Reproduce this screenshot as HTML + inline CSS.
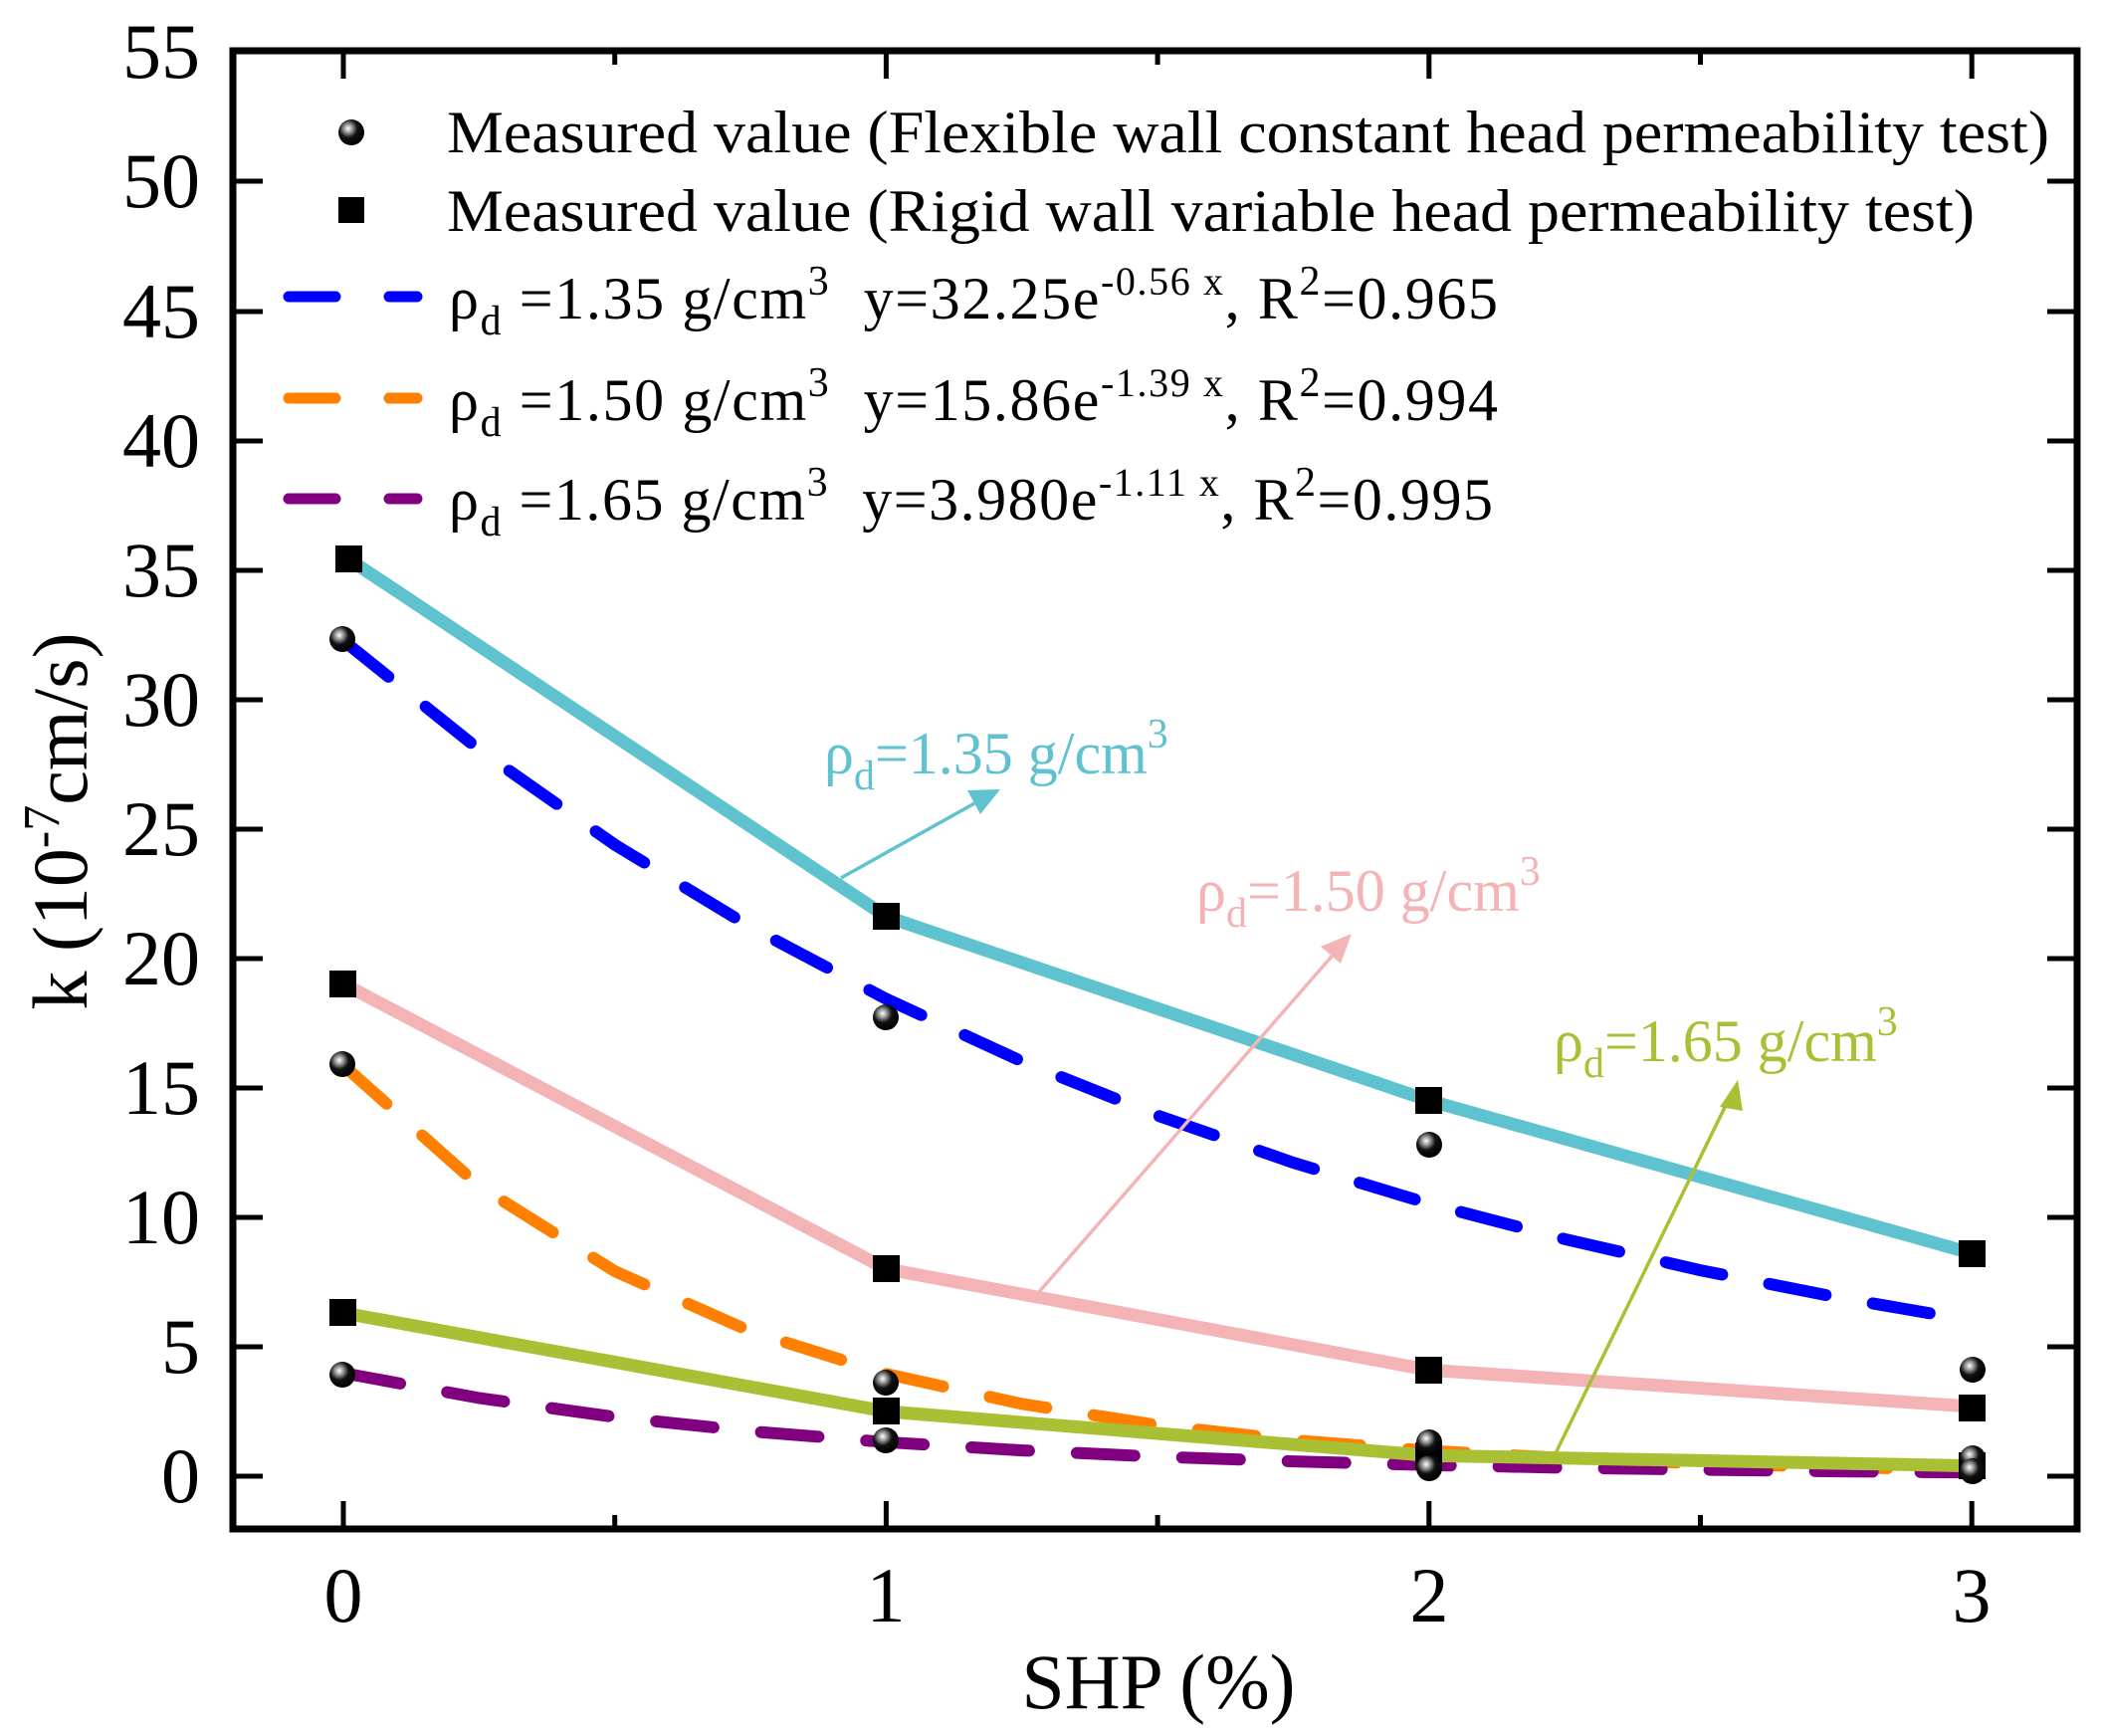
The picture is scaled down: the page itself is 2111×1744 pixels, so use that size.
<!DOCTYPE html>
<html><head><meta charset="utf-8"><style>
html,body{margin:0;padding:0;background:#fff;}
svg{display:block;}
text{font-family:"Liberation Serif",serif;}
</style></head><body>
<svg width="2111" height="1744" viewBox="0 0 2111 1744" xmlns="http://www.w3.org/2000/svg">
<defs>
<radialGradient id="ball" cx="0.38" cy="0.35" r="0.65">
<stop offset="0" stop-color="#fff"/><stop offset="0.25" stop-color="#999"/><stop offset="0.55" stop-color="#111"/><stop offset="1" stop-color="#000"/>
</radialGradient>
</defs>

<g fill="none" stroke-width="12" stroke-linecap="round" stroke-dasharray="58 48">
<polyline stroke="#0000FF" points="345,643.5 481.4,753.1 617.7,848.6 754.1,931.4 890.4,1003.5 1026.8,1066.3 1163.1,1120.7 1299.5,1168 1435.8,1209.2 1572.2,1244.8 1708.5,1276.1 1844.9,1303.1 1981.2,1326.6"/>
<polyline stroke="#FF7F00" points="345,1070.2 481.4,1191.5 617.7,1277.1 754.1,1337.5 890.4,1380.2 1026.8,1410.4 1163.1,1431.7 1299.5,1446.8 1435.8,1457.5 1572.2,1464.9 1708.5,1470.2 1844.9,1473.9 1981.2,1476.6"/>
<polyline stroke="#800080" points="345,1379.4 481.4,1404.5 617.7,1423.5 754.1,1437.9 890.4,1448.8 1026.8,1457.1 1163.1,1463.4 1299.5,1468.1 1435.8,1471.8 1572.2,1474.5 1708.5,1476.5 1844.9,1478.1 1981.2,1479.3"/>
</g>

<g fill="none" stroke-width="13">
<polyline stroke="#5FC2CF" points="350,561.5 890.4,920.8 1435.8,1105.6 1981.2,1259.1"/>
<polyline stroke="#F4B3B5" points="345,988.4 890.4,1274.8 1435.8,1376.3 1981.2,1413"/>
<polyline stroke="#A9C034" points="345,1319 890.4,1417.9 1435.8,1462.2 1981.2,1472.6"/>
</g>

<g stroke-width="3.5" fill="none">
<line x1="845" y1="882" x2="990" y2="801" stroke="#5FC2CF"/>
<line x1="1043" y1="1299" x2="1350" y2="947" stroke="#F4B3B5"/>
<line x1="1561" y1="1464" x2="1742" y2="1094" stroke="#A9C034"/>
</g>
<polygon points="1005,793 972,794 985,818" fill="#5FC2CF"/>
<polygon points="1358,938 1327,951 1347,968" fill="#F4B3B5"/>
<polygon points="1746,1085 1728,1112 1751,1116" fill="#A9C034"/>

<g fill="#000">
<rect x="337" y="548" width="27" height="27"/>
<rect x="331" y="975" width="27" height="27"/>
<rect x="331" y="1305" width="27" height="27"/>
<rect x="877" y="907" width="27" height="27"/>
<rect x="877" y="1261" width="27" height="27"/>
<rect x="877" y="1404" width="27" height="27"/>
<rect x="1422" y="1092" width="27" height="27"/>
<rect x="1422" y="1363" width="27" height="27"/>
<rect x="1422" y="1449" width="27" height="27"/>
<rect x="1968" y="1246" width="27" height="27"/>
<rect x="1968" y="1401" width="27" height="27"/>
<rect x="1968" y="1459" width="27" height="27"/>
</g>
<g fill="url(#ball)">
<circle cx="344" cy="642" r="13"/>
<circle cx="344" cy="1069" r="13"/>
<circle cx="344" cy="1381" r="13"/>
<circle cx="890" cy="1022" r="13"/>
<circle cx="890" cy="1389" r="13"/>
<circle cx="890" cy="1447" r="13"/>
<circle cx="1436" cy="1150" r="13"/>
<circle cx="1436" cy="1449" r="13"/>
<circle cx="1436" cy="1475" r="13"/>
<circle cx="1982" cy="1376" r="13"/>
<circle cx="1982" cy="1465" r="13"/>
<circle cx="1982" cy="1478" r="13"/>
</g>

<rect x="234" y="51" width="1853" height="1485" fill="none" stroke="#000" stroke-width="7"/>
<g stroke="#000" stroke-width="5">
<path d="M234,1483h30M234,1353h30M234,1223h30M234,1093h30M234,963h30M234,833h30M234,703h30M234,573h30M234,443h30M234,313h30M234,182h30"/>
<path d="M2087,1483h-30M2087,1353h-30M2087,1223h-30M2087,1093h-30M2087,963h-30M2087,833h-30M2087,703h-30M2087,573h-30M2087,443h-30M2087,313h-30M2087,182h-30"/>
<path d="M345,1536v-28M890.4,1536v-28M1435.8,1536v-28M1981.2,1536v-28M617.7,1536v-14M1163.1,1536v-14M1708.5,1536v-14"/>
<path d="M345,51v28M890.4,51v28M1435.8,51v28M1981.2,51v28M617.7,51v14M1163.1,51v14M1708.5,51v14"/>
</g>

<g font-size="78" text-anchor="end">
<text x="201" y="1509">0</text>
<text x="201" y="1379">5</text>
<text x="201" y="1249">10</text>
<text x="201" y="1119">15</text>
<text x="201" y="989">20</text>
<text x="201" y="859">25</text>
<text x="201" y="729">30</text>
<text x="201" y="599">35</text>
<text x="201" y="469">40</text>
<text x="201" y="339">45</text>
<text x="201" y="208">50</text>
<text x="201" y="78">55</text>
</g>
<g font-size="78" text-anchor="middle">
<text x="345" y="1629">0</text>
<text x="890" y="1629">1</text>
<text x="1436" y="1629">2</text>
<text x="1981" y="1629">3</text>
</g>
<text x="1164" y="1716" font-size="78" text-anchor="middle" textLength="275" lengthAdjust="spacingAndGlyphs">SHP (%)</text>
<text transform="translate(87,825) rotate(-90)" font-size="78" text-anchor="middle">k (10<tspan dy="-28" font-size="52">-7</tspan><tspan dy="28">cm/s)</tspan></text>

<circle cx="353" cy="133" r="13" fill="url(#ball)"/>
<rect x="340" y="198" width="26" height="26" fill="#000"/>
<g stroke-width="11" stroke-linecap="round">
<path d="M290,298h47M391,298h28" stroke="#0000FF"/>
<path d="M290,400h47M391,400h28" stroke="#FF7F00"/>
<path d="M290,501h47M391,501h28" stroke="#800080"/>
</g>
<g font-size="60">
<text x="449" y="153" textLength="1610" lengthAdjust="spacingAndGlyphs">Measured value (Flexible wall constant head permeability test)</text>
<text x="449" y="232" textLength="1535" lengthAdjust="spacingAndGlyphs">Measured value (Rigid wall variable head permeability test)</text>
<text x="451" y="320" textLength="1054" lengthAdjust="spacing">ρ<tspan dy="16" font-size="42">d</tspan><tspan dy="-16"> =1.35 g/cm</tspan><tspan dy="-24" font-size="42">3</tspan><tspan dy="24">&#160;&#160;y=32.25e</tspan><tspan dy="-24" font-size="40">-0.56 x</tspan><tspan dy="24">, R</tspan><tspan dy="-24" font-size="42">2</tspan><tspan dy="24">=0.965</tspan></text>
<text x="451" y="422" textLength="1054" lengthAdjust="spacing">ρ<tspan dy="16" font-size="42">d</tspan><tspan dy="-16"> =1.50 g/cm</tspan><tspan dy="-24" font-size="42">3</tspan><tspan dy="24">&#160;&#160;y=15.86e</tspan><tspan dy="-24" font-size="40">-1.39 x</tspan><tspan dy="24">, R</tspan><tspan dy="-24" font-size="42">2</tspan><tspan dy="24">=0.994</tspan></text>
<text x="451" y="522" textLength="1049" lengthAdjust="spacing">ρ<tspan dy="16" font-size="42">d</tspan><tspan dy="-16"> =1.65 g/cm</tspan><tspan dy="-24" font-size="42">3</tspan><tspan dy="24">&#160;&#160;y=3.980e</tspan><tspan dy="-24" font-size="40">-1.11 x</tspan><tspan dy="24">, R</tspan><tspan dy="-24" font-size="42">2</tspan><tspan dy="24">=0.995</tspan></text>
</g>

<g font-size="60">
<text x="828" y="777" fill="#5FC2CF">ρ<tspan dy="16" font-size="42">d</tspan><tspan dy="-16">=1.35 g/cm</tspan><tspan dy="-26" font-size="42">3</tspan></text>
<text x="1202" y="915" fill="#F4B3B5">ρ<tspan dy="16" font-size="42">d</tspan><tspan dy="-16">=1.50 g/cm</tspan><tspan dy="-26" font-size="42">3</tspan></text>
<text x="1561" y="1066" fill="#A9C034">ρ<tspan dy="16" font-size="42">d</tspan><tspan dy="-16">=1.65 g/cm</tspan><tspan dy="-26" font-size="42">3</tspan></text>
</g>
</svg>
</body></html>
